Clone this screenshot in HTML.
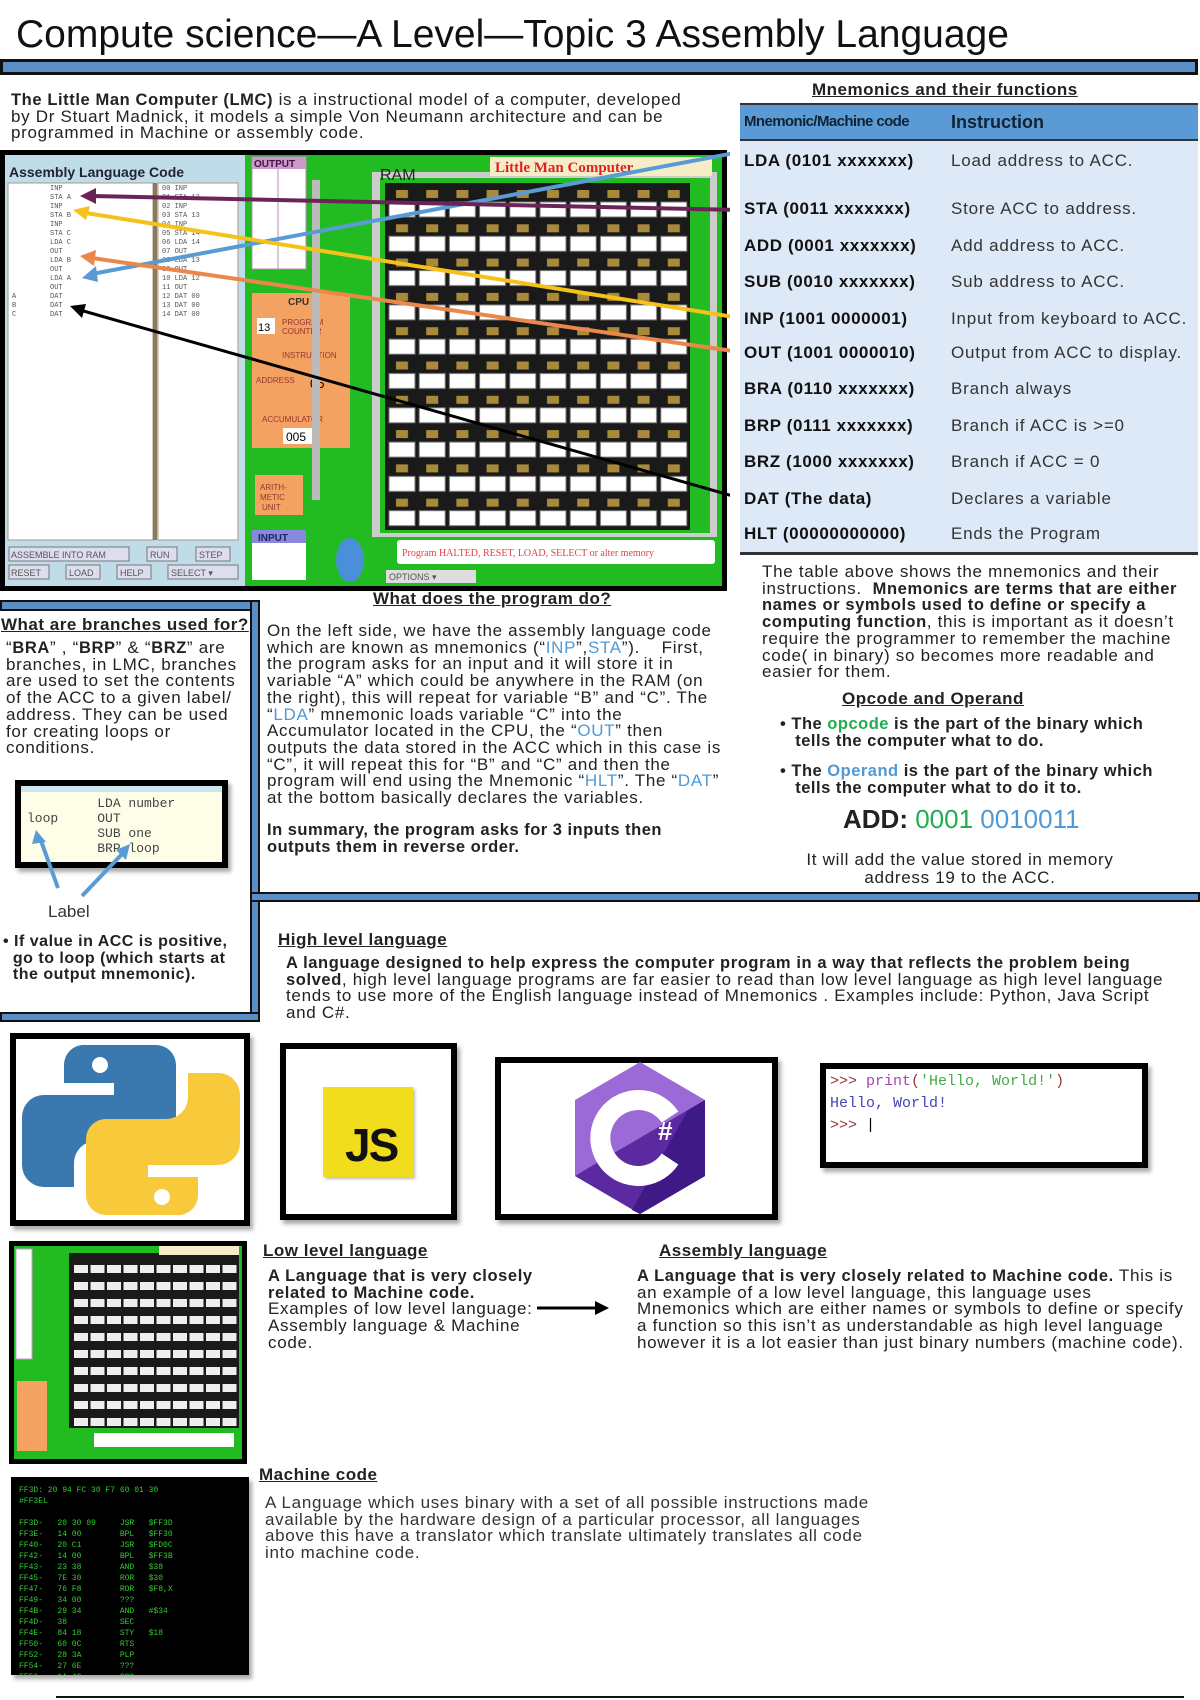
<!DOCTYPE html>
<html><head><meta charset="utf-8">
<style>
*{margin:0;padding:0;box-sizing:border-box}
body{width:1200px;height:1700px;background:#fff;position:relative;overflow:hidden;font-family:"Liberation Sans",sans-serif;color:#222}
.a{position:absolute}
.p{font-size:17px;letter-spacing:0.7px;line-height:16.7px}
.p b{font-size:16.5px;letter-spacing:0.6px}
.h{font-weight:bold;text-decoration:underline;font-size:17px;letter-spacing:0.5px}
.bar{position:absolute;background:#5b8dc6;border:2px solid #111}
.bl{color:#4f9ad6}.gr{color:#1fae4f}
.box{position:absolute;border:6px solid #000;box-shadow:3px 4px 4px #aaa;background:#fff}
.c1 div,.c2 div{position:absolute;white-space:nowrap}
</style></head><body>

<div class="a" style="left:16px;top:13px;font-size:39px;letter-spacing:0px;color:#111">Compute science—A Level—Topic 3 Assembly Language</div>
<div class="bar" style="left:0;top:59px;width:1198px;height:16px;border-width:3px"></div>

<div class="a p" style="left:11px;top:92px;width:690px"><b>The Little Man Computer (LMC)</b> is a instructional model of a computer, developed by Dr Stuart Madnick, it models a simple Von Neumann architecture and can be programmed in Machine or assembly code.</div>

<div class="a h" style="left:812px;top:80px">Mnemonics and their functions</div>
<div class="a" style="left:740px;top:103px;width:458px;height:450px;background:#dde9f6"></div>
<div class="a" style="left:740px;top:103px;width:458px;height:38px;background:#5b9bd5;border-top:2px solid #333;border-bottom:2px solid #333"></div>
<div class="a" style="left:744px;top:113px;font-size:15px;letter-spacing:-0.6px;color:#123;font-weight:bold">Mnemonic/Machine code</div>
<div class="a" style="left:951px;top:112px;font-size:18px;color:#123;font-weight:bold">Instruction</div>
<div class="a" style="left:740px;top:552px;width:458px;height:3px;background:#333"></div>
<div class="a c1" style="left:744px;top:0;font-size:17px;letter-spacing:0.6px;color:#111;font-weight:bold">
<div style="top:151px">LDA (0101 xxxxxxx)</div>
<div style="top:199px">STA (0011 xxxxxxx)</div>
<div style="top:236px">ADD (0001 xxxxxxx)</div>
<div style="top:272px">SUB (0010 xxxxxxx)</div>
<div style="top:309px">INP (1001 0000001)</div>
<div style="top:343px">OUT (1001 0000010)</div>
<div style="top:379px">BRA (0110 xxxxxxx)</div>
<div style="top:416px">BRP (0111 xxxxxxx)</div>
<div style="top:452px">BRZ (1000 xxxxxxx)</div>
<div style="top:489px">DAT (The data)</div>
<div style="top:524px">HLT (00000000000)</div>
</div>
<div class="a c2" style="left:951px;top:0;font-size:17px;letter-spacing:0.8px;color:#333">
<div style="top:151px">Load address to ACC.</div>
<div style="top:199px">Store ACC to address.</div>
<div style="top:236px">Add address to ACC.</div>
<div style="top:272px">Sub address to ACC.</div>
<div style="top:309px">Input from keyboard to ACC.</div>
<div style="top:343px">Output from ACC to display.</div>
<div style="top:379px">Branch always</div>
<div style="top:416px">Branch if ACC is &gt;=0</div>
<div style="top:452px">Branch if ACC = 0</div>
<div style="top:489px">Declares a variable</div>
<div style="top:524px">Ends the Program</div>
</div>

<!-- LMC screenshot -->
<svg class="a" style="left:0;top:150px" width="730" height="442" viewBox="0 150 730 442">
<defs>
<pattern id="cells" x="387" y="185" width="30.2" height="34.3" patternUnits="userSpaceOnUse">
<rect width="30.2" height="34.3" fill="#1a1a1a"/>
<rect x="2" y="17" width="26" height="15" fill="#fff" stroke="#777"/>
<rect x="9" y="5" width="12" height="8" fill="#a88a3a"/>
</pattern>
</defs>
<rect x="0" y="150" width="727" height="441" fill="#000"/>
<rect x="5" y="155" width="717" height="431" fill="#22bb22"/>
<rect x="5" y="155" width="240" height="431" fill="#bfdde8"/>
<text x="9" y="177" font-size="14" font-weight="bold" fill="#223" font-family="Liberation Sans">Assembly Language Code</text>
<rect x="8" y="183" width="145" height="357" fill="#fff" stroke="#a98"/>
<rect x="153" y="183" width="4" height="357" fill="#8a7a5a"/>
<rect x="158" y="183" width="80" height="357" fill="#fff" stroke="#a98"/>
<g font-family="Liberation Mono" font-size="7" fill="#555">
<text x="50" y="190">INP</text><text x="50" y="199">STA A</text><text x="50" y="208">INP</text><text x="50" y="217">STA B</text><text x="50" y="226">INP</text><text x="50" y="235">STA C</text><text x="50" y="244">LDA C</text><text x="50" y="253">OUT</text><text x="50" y="262">LDA B</text><text x="50" y="271">OUT</text><text x="50" y="280">LDA A</text><text x="50" y="289">OUT</text><text x="50" y="298">DAT</text><text x="50" y="307">DAT</text><text x="50" y="316">DAT</text>
<text x="12" y="298">A</text><text x="12" y="307">B</text><text x="12" y="316">C</text>
<text x="162" y="190">00 INP</text><text x="162" y="199">01 STA 12</text><text x="162" y="208">02 INP</text><text x="162" y="217">03 STA 13</text><text x="162" y="226">04 INP</text><text x="162" y="235">05 STA 14</text><text x="162" y="244">06 LDA 14</text><text x="162" y="253">07 OUT</text><text x="162" y="262">08 LDA 13</text><text x="162" y="271">09 OUT</text><text x="162" y="280">10 LDA 12</text><text x="162" y="289">11 OUT</text><text x="162" y="298">12 DAT 00</text><text x="162" y="307">13 DAT 00</text><text x="162" y="316">14 DAT 00</text>
</g>
<g fill="#dde" stroke="#777">
<rect x="9" y="547" width="120" height="14"/><rect x="147" y="547" width="30" height="14"/><rect x="196" y="547" width="34" height="14"/>
<rect x="9" y="565" width="40" height="14"/><rect x="66" y="565" width="34" height="14"/><rect x="117" y="565" width="34" height="14"/><rect x="168" y="565" width="70" height="14"/>
</g>
<g font-size="9" fill="#555" font-family="Liberation Sans">
<text x="11" y="558">ASSEMBLE INTO RAM</text><text x="150" y="558">RUN</text><text x="199" y="558">STEP</text>
<text x="11" y="576">RESET</text><text x="69" y="576">LOAD</text><text x="120" y="576">HELP</text><text x="171" y="576">SELECT ▾</text>
</g>
<rect x="252" y="157" width="54" height="112" fill="#fff" stroke="#b8b"/>
<rect x="252" y="157" width="54" height="12" fill="#c9c"/>
<text x="254" y="167" font-size="10" font-weight="bold" fill="#414" font-family="Liberation Sans">OUTPUT</text>
<line x1="278" y1="169" x2="278" y2="269" stroke="#b8b"/>
<rect x="252" y="293" width="98" height="155" fill="#f4a261"/>
<text x="288" y="305" font-size="10" font-weight="bold" fill="#333" font-family="Liberation Sans">CPU</text>
<rect x="257" y="318" width="18" height="16" fill="#fff"/><text x="258" y="331" font-size="11">13</text>
<text x="282" y="325" font-size="8" fill="#933">PROGRAM</text><text x="282" y="334" font-size="8" fill="#933">COUNTER</text>
<text x="282" y="358" font-size="8" fill="#933">INSTRUCTION</text>
<text x="256" y="383" font-size="8" fill="#933">ADDRESS</text><text x="310" y="388" font-size="13">05</text>
<text x="262" y="422" font-size="8" fill="#933">ACCUMULATOR</text>
<rect x="283" y="428" width="32" height="16" fill="#fff"/><text x="286" y="441" font-size="12">005</text>
<rect x="255" y="475" width="48" height="40" fill="#f4a261"/>
<text x="260" y="490" font-size="8" fill="#933">ARITH-</text><text x="260" y="500" font-size="8" fill="#933">METIC</text><text x="262" y="510" font-size="8" fill="#933">UNIT</text>
<rect x="252" y="530" width="54" height="50" fill="#fff"/><rect x="252" y="530" width="54" height="13" fill="#88d"/>
<text x="258" y="541" font-size="10" font-weight="bold" fill="#226" font-family="Liberation Sans">INPUT</text>
<rect x="312" y="180" width="8" height="320" fill="#bbb"/>
<rect x="372" y="172" width="345" height="365" fill="#ccc"/>
<rect x="380" y="178" width="330" height="355" fill="#22bb22"/>
<rect x="385" y="183" width="305" height="347" fill="#1a1a1a"/>
<rect x="387" y="185" width="302" height="343" fill="url(#cells)"/>
<text x="380" y="180" font-size="16" fill="#222" font-family="Liberation Sans">RAM</text>
<rect x="490" y="157" width="222" height="19" fill="#f7ecc8"/>
<text x="495" y="172" font-size="15" font-weight="bold" fill="#d22" font-family="Liberation Serif">Little Man Computer</text>
<rect x="397" y="540" width="318" height="24" fill="#fff" rx="3"/>
<text x="402" y="556" font-size="10" fill="#d44" font-family="Liberation Serif">Program HALTED, RESET, LOAD, SELECT or alter memory</text>
<rect x="386" y="570" width="90" height="13" fill="#ddd"/><text x="389" y="580" font-size="9" fill="#555">OPTIONS ▾</text>
<ellipse cx="350" cy="560" rx="14" ry="22" fill="#4a90d9"/>
<g stroke-width="4" fill="none" stroke-linecap="round">
<line x1="740" y1="152" x2="92" y2="274" stroke="#5b9bd5"/>
<line x1="740" y1="210" x2="92" y2="196" stroke="#6b2458"/>
<line x1="740" y1="318" x2="86" y2="213" stroke="#f5c21b"/>
<line x1="740" y1="352" x2="92" y2="258" stroke="#e9884a"/>
<line x1="740" y1="498" x2="80" y2="310" stroke="#000" stroke-width="3"/>
</g>
<polygon points="80,196 96,188 96,204" fill="#6b2458"/>
<polygon points="73,210 90,206 86,220" fill="#f5c21b"/>
<polygon points="80,256 96,250 94,266" fill="#e9884a"/>
<polygon points="82,278 96,266 98,282" fill="#5b9bd5"/>
<polygon points="70,306 86,304 82,318" fill="#000"/>
</svg>

<div class="a p" style="left:762px;top:564px;width:425px"><span>The table above shows the mnemonics and their instructions.&nbsp; </span><b>Mnemonics are terms that are either names or symbols used to define or specify a computing function</b>, this is important as it doesn’t require the programmer to remember the machine code( in binary) so becomes more readable and easier for them.</div>
<div class="a h" style="left:842px;top:689px">Opcode and Operand</div>
<div class="a" style="left:780px;top:716px;width:420px;font-size:16.5px;line-height:17px;font-weight:bold;letter-spacing:0.5px">• The <span class="gr">opcode</span> is the part of the binary which<br>&nbsp;&nbsp; tells the computer what to do.</div>
<div class="a" style="left:780px;top:763px;width:420px;font-size:16.5px;line-height:17px;font-weight:bold;letter-spacing:0.5px">• The <span class="bl">Operand</span> is the part of the binary which<br>&nbsp;&nbsp; tells the computer what to do it to.</div>
<div class="a" style="left:843px;top:804px;font-size:26px;font-weight:bold;letter-spacing:0px">ADD: <span class="gr" style="font-weight:normal">0001</span> <span class="bl" style="font-weight:normal">0010011</span></div>
<div class="a p" style="left:790px;top:851px;width:340px;text-align:center;line-height:18px">It will add the value stored in memory address 19 to the ACC.</div>

<!-- frame lines -->
<div class="bar" style="left:0;top:600px;width:260px;height:11px"></div>
<div class="bar" style="left:250px;top:600px;width:10px;height:422px"></div>
<div class="bar" style="left:0;top:1012px;width:260px;height:10px"></div>
<div class="bar" style="left:250px;top:892px;width:950px;height:10px"></div>

<div class="a h" style="left:373px;top:589px">What does the program do?</div>
<div class="a h" style="left:1px;top:615px">What are branches used for?</div>
<div class="a p" style="left:6px;top:640px;width:246px">“<b>BRA</b>” , “<b>BRP</b>” &amp; “<b>BRZ</b>” are branches, in LMC, branches are used to set the contents of the ACC to a given label/ address. They can be used for creating loops or conditions.</div>
<div class="box" style="left:15px;top:780px;width:213px;height:88px;background:#fdfde8">
<div style="height:6px;background:#cce4ee"></div>
<pre style="font-family:'Liberation Mono',monospace;font-size:13px;line-height:15px;color:#444;padding:4px 0 0 6px">         LDA number
loop     OUT
         SUB one
         BRP loop</pre></div>
<svg class="a" style="left:0;top:830px" width="240" height="90">
<line x1="58" y1="58" x2="40" y2="8" stroke="#5b9bd5" stroke-width="4"/>
<polygon points="36,0 32,14 46,12" fill="#5b9bd5"/>
<line x1="82" y1="66" x2="124" y2="22" stroke="#5b9bd5" stroke-width="4"/>
<polygon points="130,14 116,20 126,30" fill="#5b9bd5"/>
</svg>
<div class="a" style="left:48px;top:902px;font-size:17px;color:#333">Label</div>
<div class="a" style="left:3px;top:934px;width:250px;font-size:16px;line-height:16.5px;font-weight:bold;letter-spacing:0.5px">• If value in ACC is positive,<br>&nbsp;&nbsp;go to loop (which starts at<br>&nbsp;&nbsp;the output mnemonic).</div>

<div class="a p" style="left:267px;top:623px;width:462px">On the left side, we have the assembly language code which are known as mnemonics (“<span class="bl">INP</span>”,<span class="bl">STA</span>”).&nbsp;&nbsp;&nbsp; First, the program asks for an input and it will store it in variable “A” which could be anywhere in the RAM (on the right), this will repeat for variable “B” and “C”. The “<span class="bl">LDA</span>” mnemonic loads variable “C” into the Accumulator located in the CPU, the “<span class="bl">OUT</span>” then outputs the data stored in the ACC which in this case is “C”, it will repeat this for “B” and “C” and then the program will end using the Mnemonic “<span class="bl">HLT</span>”. The “<span class="bl">DAT</span>” at the bottom basically declares the variables.</div>
<div class="a" style="left:267px;top:822px;width:455px;font-size:16.5px;line-height:16.7px;letter-spacing:0.5px;font-weight:bold">In summary, the program asks for 3 inputs then outputs them in reverse order.</div>

<div class="a h" style="left:278px;top:930px">High level language</div>
<div class="a p" style="left:286px;top:955px;width:880px"><b>A language designed to help express the computer program in a way that reflects the problem being solved</b>, high level language programs are far easier to read than low level language as high level language tends to use more of the English language instead of Mnemonics . Examples include: Python, Java Script and C#.</div>

<!-- logos -->
<div class="box" style="left:10px;top:1033px;width:240px;height:193px"></div>
<svg class="a" style="left:16px;top:1039px" width="228" height="181" viewBox="0 0 228 181">
<path d="M70 6 h70 a20 20 0 0 1 20 20 v56 a20 20 0 0 1 -20 20 h-60 a22 22 0 0 0 -22 22 v24 h-30 a22 22 0 0 1 -22 -22 v-48 a22 22 0 0 1 22 -22 h70 v-12 h-50 v-18 a20 20 0 0 1 22 -20 z" fill="#3a78b0"/>
<path d="M160 176 h-70 a20 20 0 0 1 -20 -20 v-56 a20 20 0 0 1 20 -20 h60 a22 22 0 0 0 22 -22 v-24 h30 a22 22 0 0 1 22 22 v48 a22 22 0 0 1 -22 22 h-70 v12 h50 v18 a20 20 0 0 1 -22 20 z" fill="#f9c93c"/>
<circle cx="84" cy="26" r="8" fill="#fff"/><circle cx="146" cy="158" r="8" fill="#fff"/>
</svg>
<div class="box" style="left:280px;top:1043px;width:177px;height:177px"></div>
<div class="a" style="left:323px;top:1087px;width:90px;height:90px;background:#f2dd1c;box-shadow:2px 2px 3px #bbb"></div>
<div class="a" style="left:345px;top:1118px;font-size:46px;font-weight:bold;color:#111;letter-spacing:-2px">JS</div>
<div class="box" style="left:495px;top:1057px;width:283px;height:163px"></div>
<svg class="a" style="left:570px;top:1062px" width="140" height="152" viewBox="0 0 140 152">
<polygon points="70,0 135,38 135,114 70,152 5,114 5,38" fill="#9b6ad6"/>
<polygon points="135,38 135,114 70,152 5,114 20,105" fill="#5b2aa0"/>
<polygon points="135,38 135,114 70,152 62,148 118,48" fill="#3f1a86"/>
<path d="M100 55 a38 38 0 1 0 0 42" fill="none" stroke="#fff" stroke-width="20"/>
<text x="88" y="78" font-size="26" font-weight="bold" fill="#fff" font-family="Liberation Sans">#</text>
</svg>
<div class="box" style="left:820px;top:1063px;width:328px;height:105px">
<pre style="font-family:'Liberation Mono',monospace;font-size:15px;line-height:22px;padding:2px 0 0 4px;color:#933">&gt;&gt;&gt; <span style="color:#a4a">print</span>(<span style="color:#4a4">'Hello, World!'</span>)
<span style="color:#44b">Hello, World!</span>
&gt;&gt;&gt; <span style="color:#000">|</span></pre></div>

<!-- small LMC -->
<svg class="a" style="left:9px;top:1241px" width="238" height="223">
<rect width="238" height="223" fill="#000"/>
<rect x="5" y="5" width="228" height="213" fill="#22bb22"/>
<rect x="7" y="8" width="16" height="110" fill="#fff" stroke="#c9c"/>
<rect x="8" y="140" width="30" height="70" fill="#f4a261"/>
<rect x="60" y="12" width="170" height="175" fill="#1a1a1a"/>
<defs><pattern id="c2" x="64" y="16" width="16.5" height="17" patternUnits="userSpaceOnUse"><rect x="1" y="8" width="14" height="8" fill="#eee"/></pattern></defs>
<rect x="64" y="16" width="165" height="170" fill="url(#c2)"/>
<rect x="150" y="5" width="80" height="9" fill="#f7ecc8"/>
<rect x="85" y="192" width="140" height="14" fill="#fff"/>
</svg>
<div class="a h" style="left:263px;top:1241px">Low level language</div>
<div class="a p" style="left:268px;top:1268px;width:272px"><b>A Language that is very closely related to Machine code.</b> Examples of low level language: Assembly language &amp; Machine code.</div>
<svg class="a" style="left:537px;top:1300px" width="72" height="16"><line x1="0" y1="8" x2="60" y2="8" stroke="#000" stroke-width="3"/><polygon points="72,8 58,1 58,15" fill="#000"/></svg>
<div class="a h" style="left:659px;top:1241px">Assembly language</div>
<div class="a p" style="left:637px;top:1268px;width:548px"><b>A Language that is very closely related to Machine code.</b> This is an example of a low level language, this language uses Mnemonics which are either names or symbols to define or specify a function so this isn’t as understandable as high level language however it is a lot easier than just binary numbers (machine code).</div>

<div class="a" style="left:11px;top:1477px;width:238px;height:198px;background:#000;box-shadow:3px 4px 4px #aaa;overflow:hidden">
<pre style="font-family:'Liberation Mono',monospace;font-size:8px;line-height:11px;color:#3c3;padding:8px 0 0 8px">FF3D: 20 94 FC 30 F7 60 01 30
#FF3EL

FF3D-   20 30 09     JSR   $FF3D
FF3E-   14 00        BPL   $FF30
FF40-   20 C1        JSR   $FD0C
FF42-   14 00        BPL   $FF3B
FF43-   23 38        AND   $38
FF45-   7E 30        ROR   $30
FF47-   76 F8        ROR   $F8,X
FF49-   34 00        ???
FF4B-   29 34        AND   #$34
FF4D-   38           SEC
FF4E-   84 18        STY   $18
FF50-   60 0C        RTS
FF52-   28 3A        PLP
FF54-   27 6E        ???
FF56-   1A 40        ???
FF58-   C9 20        CMP   #$20
_</pre></div>
<div class="a h" style="left:259px;top:1465px">Machine code</div>
<div class="a p" style="left:265px;top:1495px;width:610px;color:#333">A Language which uses binary with a set of all possible instructions made available by the hardware design of a particular processor, all languages above this have a translator which translate ultimately translates all code into machine code.</div>

<div class="a" style="left:56px;top:1696px;width:1128px;height:2px;background:#111"></div>
</body></html>
